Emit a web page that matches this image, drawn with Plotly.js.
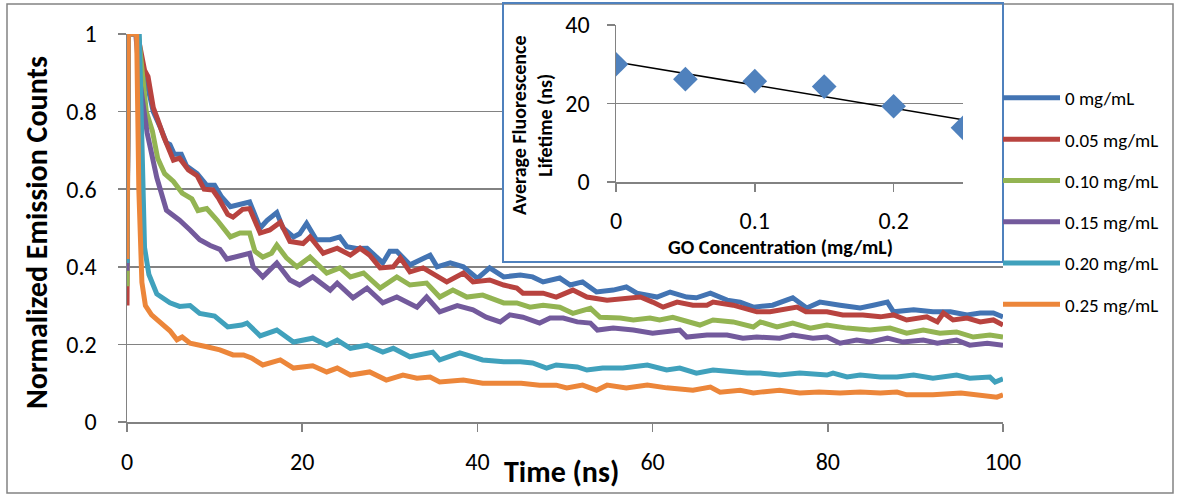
<!DOCTYPE html>
<html>
<head>
<meta charset="utf-8">
<script src="https://cdn.plot.ly/plotly-3.0.1.min.js"></script>
<style>
  html, body { margin: 0; padding: 0; background: #ffffff; }
  #chart { width: 1178px; height: 495px; }
</style>
</head>
<body>
<div id="chart"></div>
<script>
// Fluorescence decay curves, [time (ns), normalized emission counts]
const decay000 = [[0,0.40],[0.15,1],[1.2,1],[1.6,0.93],[2.2,0.88],[3.0,0.80],[3.8,0.76],[4.5,0.72],[4.9,0.715],[5.4,0.69],[6.2,0.69],[6.8,0.66],[8.0,0.64],[9.1,0.61],[10.0,0.61],[10.8,0.58],[11.8,0.555],[12.8,0.56],[14.0,0.567],[15.2,0.50],[16.0,0.52],[17.1,0.54],[17.8,0.50],[19.0,0.477],[19.7,0.485],[20.5,0.512],[21.6,0.47],[23.2,0.47],[24.3,0.477],[25.1,0.452],[26.2,0.447],[27.4,0.448],[29.2,0.41],[30.0,0.44],[30.8,0.44],[32.3,0.405],[34.6,0.43],[35.4,0.40],[36.9,0.41],[38.4,0.40],[40.0,0.37],[41.4,0.397],[43.0,0.374],[44.9,0.379],[46.3,0.374],[47.5,0.361],[49.4,0.371],[50.6,0.353],[52.0,0.361],[53.6,0.335],[55.5,0.34],[57.0,0.348],[58.2,0.332],[60.5,0.322],[62.0,0.335],[63.9,0.322],[65.0,0.32],[66.6,0.332],[68.5,0.314],[70.0,0.309],[71.5,0.296],[73.7,0.301],[76.0,0.32],[77.6,0.294],[79.1,0.309],[81.4,0.301],[83.7,0.294],[85.2,0.301],[86.8,0.309],[87.5,0.284],[89.8,0.289],[92.0,0.284],[94.0,0.284],[95.9,0.276],[97.4,0.281],[98.9,0.281],[100,0.271]];
const decay005 = [[0,0.30],[0.15,1],[1.2,1],[1.6,0.95],[2.0,0.907],[2.4,0.89],[3.0,0.81],[3.5,0.78],[4.2,0.735],[5.3,0.675],[6.0,0.68],[7.0,0.65],[8.0,0.635],[8.8,0.60],[9.8,0.598],[10.5,0.575],[11.5,0.535],[12.1,0.528],[13.2,0.548],[14.0,0.55],[15.2,0.487],[16.3,0.495],[17.5,0.515],[18.6,0.465],[20.1,0.46],[20.9,0.477],[22.4,0.435],[24.0,0.448],[25.5,0.43],[26.6,0.448],[27.7,0.43],[28.9,0.397],[30.4,0.40],[31.2,0.423],[32.3,0.387],[33.8,0.397],[35.4,0.374],[36.5,0.361],[38.4,0.384],[39.5,0.361],[41.4,0.366],[43.0,0.353],[44.5,0.345],[45.2,0.332],[47.5,0.332],[49.0,0.322],[50.9,0.34],[52.5,0.322],[54.8,0.314],[57.0,0.32],[58.6,0.322],[60.0,0.309],[61.2,0.296],[62.8,0.309],[64.6,0.301],[66.2,0.301],[66.9,0.309],[69.2,0.301],[71.9,0.284],[73.4,0.284],[74.9,0.289],[76.5,0.296],[77.5,0.284],[79.9,0.284],[81.7,0.276],[84.0,0.276],[86.0,0.271],[87.5,0.276],[89.0,0.263],[91.3,0.271],[92.5,0.258],[93.2,0.281],[94.3,0.263],[95.9,0.268],[97.4,0.258],[98.9,0.263],[100,0.25]];
const decay010 = [[0,0.35],[0.15,1],[1.3,1],[2.2,0.80],[2.9,0.75],[3.5,0.68],[4.3,0.64],[5.3,0.62],[6.3,0.59],[7.4,0.575],[8.1,0.545],[9.1,0.55],[10.3,0.52],[11.8,0.477],[12.9,0.487],[14.0,0.487],[14.6,0.44],[15.5,0.425],[16.5,0.435],[17.1,0.456],[18.2,0.423],[19.4,0.40],[20.9,0.425],[22.8,0.384],[24.3,0.397],[25.5,0.374],[27.0,0.384],[28.9,0.345],[30.8,0.374],[32.3,0.353],[34.2,0.358],[35.7,0.322],[37.2,0.34],[38.8,0.322],[40.6,0.327],[43.0,0.307],[44.5,0.307],[46.0,0.296],[47.5,0.301],[49.4,0.296],[50.9,0.28],[52.9,0.293],[54.0,0.27],[56.3,0.268],[57.8,0.263],[59.7,0.268],[60.8,0.263],[62.3,0.27],[65.4,0.25],[66.9,0.263],[69.2,0.258],[71.5,0.245],[72.3,0.258],[74.2,0.245],[76.0,0.255],[78.0,0.242],[79.9,0.25],[82.2,0.242],[84.8,0.237],[87.1,0.242],[89.0,0.229],[90.9,0.237],[92.8,0.229],[94.7,0.232],[96.6,0.219],[98.5,0.224],[100,0.219]];
const decay015 = [[0,0.39],[0.15,1],[1.0,1],[1.5,0.873],[2.3,0.745],[3.4,0.63],[4.5,0.546],[6.0,0.52],[7.2,0.495],[8.3,0.47],[9.5,0.455],[10.6,0.445],[11.4,0.42],[12.9,0.43],[14.0,0.435],[14.4,0.40],[15.5,0.374],[17.1,0.41],[18.6,0.366],[19.7,0.353],[21.2,0.374],[23.2,0.34],[24.0,0.358],[25.8,0.32],[27.4,0.345],[29.2,0.307],[30.8,0.322],[33.1,0.296],[34.2,0.322],[35.7,0.284],[37.7,0.30],[39.5,0.289],[41.0,0.27],[42.6,0.258],[43.7,0.276],[45.2,0.27],[47.1,0.255],[48.3,0.268],[49.8,0.268],[51.4,0.258],[52.9,0.255],[53.7,0.237],[55.5,0.242],[57.8,0.237],[60.0,0.229],[63.1,0.237],[63.9,0.219],[66.2,0.224],[68.5,0.224],[70.3,0.216],[71.9,0.219],[74.5,0.216],[76.0,0.224],[78.3,0.216],[79.9,0.219],[81.4,0.203],[83.3,0.211],[84.8,0.206],[86.8,0.216],[88.6,0.206],[90.9,0.211],[92.5,0.203],[94.7,0.211],[96.2,0.198],[98.2,0.203],[100,0.198]];
const decay020 = [[0,0.41],[0.15,1],[1.4,1],[1.8,0.53],[2.0,0.45],[2.5,0.38],[3.4,0.33],[4.9,0.307],[6.0,0.298],[7.2,0.30],[8.3,0.28],[10.0,0.273],[11.5,0.245],[13.1,0.25],[13.7,0.255],[15.2,0.222],[17.1,0.237],[19.0,0.206],[21.2,0.216],[22.8,0.198],[24.0,0.211],[25.5,0.19],[27.4,0.198],[29.2,0.18],[30.4,0.19],[32.3,0.168],[34.9,0.18],[35.7,0.16],[38.0,0.178],[40.6,0.16],[43.0,0.155],[44.9,0.155],[46.3,0.152],[47.9,0.139],[49.0,0.147],[51.4,0.142],[52.5,0.134],[54.3,0.139],[56.6,0.139],[59.4,0.147],[61.6,0.134],[63.1,0.139],[65.0,0.126],[66.9,0.134],[69.2,0.129],[70.8,0.126],[72.3,0.126],[74.5,0.121],[76.8,0.126],[79.9,0.121],[80.6,0.126],[82.2,0.116],[83.7,0.121],[86.0,0.116],[87.9,0.116],[89.8,0.121],[92.0,0.113],[94.7,0.121],[96.2,0.113],[98.5,0.116],[99.1,0.103],[100,0.111]];
const decay025 = [[0,0.42],[0.15,1],[1.1,1],[1.35,0.6],[1.7,0.36],[2.1,0.30],[2.8,0.276],[3.9,0.255],[4.9,0.235],[5.7,0.212],[6.3,0.219],[7.2,0.203],[8.1,0.20],[9.1,0.194],[10.6,0.186],[12.1,0.173],[13.3,0.173],[14.2,0.165],[15.5,0.147],[17.5,0.16],[19.0,0.139],[21.2,0.145],[22.8,0.129],[24.0,0.139],[25.5,0.121],[27.7,0.129],[29.6,0.108],[31.5,0.121],[33.1,0.113],[34.6,0.116],[35.7,0.103],[38.4,0.108],[40.6,0.10],[43.4,0.10],[45.0,0.10],[47.1,0.095],[49.0,0.095],[50.2,0.088],[52.0,0.095],[53.6,0.082],[54.8,0.095],[57.0,0.088],[59.4,0.095],[61.6,0.088],[64.6,0.082],[66.6,0.09],[67.7,0.077],[70.0,0.082],[71.5,0.075],[72.3,0.077],[74.5,0.082],[76.8,0.075],[79.0,0.077],[81.4,0.075],[83.7,0.077],[86.0,0.075],[87.9,0.077],[89.0,0.07],[92.0,0.07],[95.2,0.075],[97.1,0.07],[99.3,0.064],[100,0.07]];

const seriesData = [decay000, decay005, decay010, decay015, decay020, decay025];
const seriesNames = ['0 mg/mL', '0.05 mg/mL', '0.10 mg/mL', '0.15 mg/mL', '0.20 mg/mL', '0.25 mg/mL'];
const seriesColors = ['#4374B3', '#B8433F', '#93B452', '#735A9C', '#40A1BC', '#EC863A'];

// Average fluorescence lifetime versus graphene oxide concentration
const goConc = [0, 0.05, 0.10, 0.15, 0.20, 0.25];
const lifetime = [30.0, 26.2, 25.7, 24.3, 19.3, 13.8];

// Least-squares trend line through the lifetime points
function linearFit(xs, ys) {
  const n = xs.length;
  const mx = xs.reduce((a, b) => a + b, 0) / n;
  const my = ys.reduce((a, b) => a + b, 0) / n;
  let sxy = 0, sxx = 0;
  for (let i = 0; i < n; i++) { sxy += (xs[i] - mx) * (ys[i] - my); sxx += (xs[i] - mx) ** 2; }
  const slope = sxy / sxx;
  return { slope, intercept: my - slope * mx };
}
const fit = linearFit(goConc, lifetime);
const fitX = [goConc[0], goConc[goConc.length - 1]];
const fitY = fitX.map(x => fit.intercept + fit.slope * x);

// Page geometry (pixels)
const W = 1178, H = 495;
const PL = 127, PR = 1003, PT = 2, PB = 422;   // plotting area of the figure
const mainTop = 34;                              // y pixel of value 1 on the main axis
const px = x => (x - PL) / (PR - PL);
const py = y => (PB - y) / (PB - PT);
// main-axis data coordinates of a pixel position
const tAt = x => (x - PL) / (PR - PL) * 100;
const vAt = y => (PB - y) / (PB - mainTop);

const FONT = 'Carlito, Lato, sans-serif';
const GRID = '#828282';
const INK = '#000000';

const traces = seriesData.map((pts, i) => ({
  type: 'scatter', mode: 'lines',
  x: pts.map(p => p[0]), y: pts.map(p => p[1]),
  name: seriesNames[i],
  legendgroup: 'g' + i,
  line: { color: seriesColors[i], width: 5 },
  xaxis: 'x', yaxis: 'y',
  hoverinfo: 'skip'
}));

traces.push({
  type: 'scatter', mode: 'lines',
  x: fitX, y: fitY,
  line: { color: '#000000', width: 1.5 },
  xaxis: 'x2', yaxis: 'y2', showlegend: false, hoverinfo: 'skip'
});
traces.push({
  type: 'scatter', mode: 'markers',
  x: goConc, y: lifetime,
  marker: { symbol: 'diamond', size: 19, color: '#4F81BD' },
  xaxis: 'x2', yaxis: 'y2', showlegend: false, hoverinfo: 'skip'
});

const axisCommon = {
  showline: true, linecolor: GRID, linewidth: 1.5,
  ticks: 'outside', ticklen: 8, tickcolor: GRID, tickwidth: 1.5,
  zeroline: false, fixedrange: true,
  tickfont: { family: FONT, size: 24, color: INK }
};

const layout = {
  width: W, height: H,
  paper_bgcolor: '#ffffff', plot_bgcolor: 'rgba(0,0,0,0)',
  margin: { l: PL, r: W - PR, t: PT, b: H - PB, pad: 0 },
  font: { family: FONT, color: INK },
  showlegend: true,
  legend: {
    x: px(998), xanchor: 'left', y: py(79), yanchor: 'top',
    font: { family: FONT, size: 19, color: INK },
    tracegroupgap: 13.6, itemwidth: 57,
    bgcolor: 'rgba(0,0,0,0)', borderwidth: 0
  },
  xaxis: Object.assign({}, axisCommon, {
    domain: [0, 1], anchor: 'y', range: [0, 100], dtick: 20, tick0: 0,
    showgrid: false, ticklabelstandoff: 10
  }),
  yaxis: Object.assign({}, axisCommon, {
    domain: [0, py(mainTop)], anchor: 'x', range: [0, 1], dtick: 0.2, tick0: 0,
    showgrid: true, gridcolor: GRID, gridwidth: 1.5, ticklabelstandoff: 16
  }),
  xaxis2: Object.assign({}, axisCommon, {
    domain: [px(616), px(963)], anchor: 'y2', range: [0, 0.25], dtick: 0.1, tick0: 0,
    showgrid: false, ticklabelstandoff: 9
  }),
  yaxis2: Object.assign({}, axisCommon, {
    domain: [py(182), py(25)], anchor: 'x2', range: [0, 40], dtick: 20, tick0: 0,
    showgrid: true, gridcolor: GRID, gridwidth: 1.5, ticklabelstandoff: 12
  }),
  shapes: [
    // outer chart frame
    { type: 'rect', xref: 'paper', yref: 'paper', layer: 'below',
      x0: px(7), x1: px(1173), y0: py(493), y1: py(4),
      line: { color: GRID, width: 1.5 }, fillcolor: 'rgba(0,0,0,0)' },
    // white backing of the inset, drawn over the main gridlines
    { type: 'rect', xref: 'x', yref: 'y', layer: 'between',
      x0: tAt(503), x1: 100, y0: vAt(262), y1: 1.1,
      line: { width: 0 }, fillcolor: '#ffffff' },
    // inset frame
    { type: 'rect', xref: 'paper', yref: 'paper', layer: 'above',
      x0: px(503), x1: px(1003), y0: py(262), y1: py(3),
      line: { color: '#4F81BD', width: 2 }, fillcolor: 'rgba(0,0,0,0)' }
  ],
  annotations: [
    { text: '<b>Time (ns)</b>', xref: 'paper', yref: 'paper', x: px(561), y: py(471),
      xanchor: 'center', yanchor: 'middle', showarrow: false,
      font: { family: FONT, size: 30, color: INK } },
    { text: '<b>Normalized Emission Counts</b>', xref: 'paper', yref: 'paper', x: px(36), y: py(233),
      xanchor: 'center', yanchor: 'middle', showarrow: false, textangle: -90,
      font: { family: FONT, size: 30, color: INK } },
    { text: '<b>GO Concentration (mg/mL)</b>', xref: 'paper', yref: 'paper', x: px(780), y: py(247),
      xanchor: 'center', yanchor: 'middle', showarrow: false,
      font: { family: FONT, size: 20, color: INK } },
    { text: '<b>Average Fluorescence<br>Lifetime (ns)</b>', xref: 'paper', yref: 'paper', x: px(532), y: py(125),
      xanchor: 'center', yanchor: 'middle', showarrow: false, textangle: -90,
      font: { family: FONT, size: 20, color: INK } }
  ]
};

Plotly.newPlot('chart', traces, layout, { displayModeBar: false, staticPlot: true });
</script>
</body>
</html>
